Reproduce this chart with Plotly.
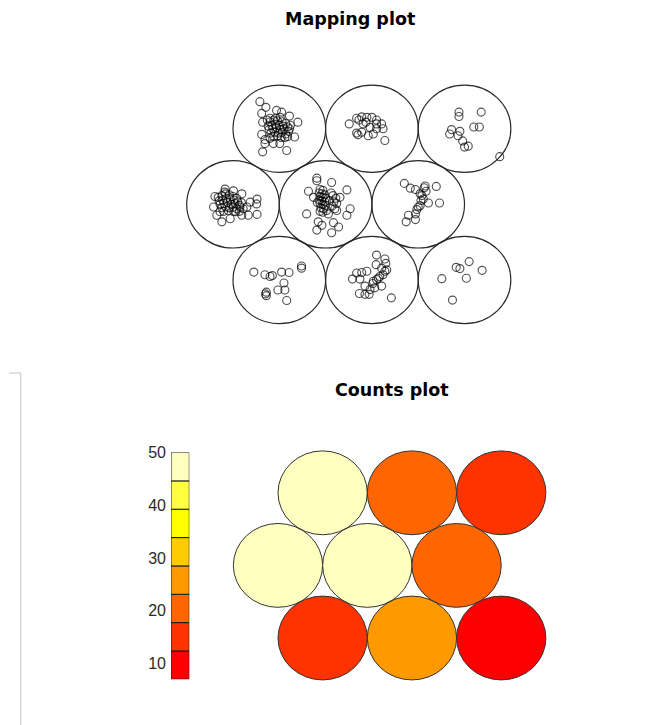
import math
import plotly.graph_objects as go

# ---- Hexagonal 3x3 SOM grid: rows bottom (0) to top (2), three units per row ----
ROWS = 3
COLS = 3
SQ3 = math.sqrt(3) / 2

# Sample positions inside each unit, as (dx, dy) offsets from the unit centre.
# Keys: (row, col), row 0 = bottom.
unit_top_left = [
    (-0.21, 0.31), (-0.145, 0.245), (-0.19, 0.175), (-0.03, 0.21), (0.025, 0.19),
    (0.20, 0.075), (0.165, -0.095), (-0.19, -0.065), (-0.155, -0.17), (-0.18, -0.265),
    (0.08, -0.25), (0.005, -0.17), (-0.065, -0.17), (-0.155, -0.125), (0.11, 0.145),
    (0.11, 0.00), (-0.18, 0.075), (-0.10, 0.12),
    (-0.10, 0.08), (-0.06, 0.10), (-0.02, 0.09), (0.03, 0.08), (0.07, 0.06),
    (-0.12, 0.03), (-0.08, 0.04), (-0.04, 0.05), (0.00, 0.04), (0.04, 0.03),
    (0.09, 0.02), (-0.11, -0.01), (-0.07, 0.00), (-0.03, 0.01), (0.01, -0.01),
    (0.05, 0.00), (0.10, -0.03), (-0.09, -0.05), (-0.05, -0.04), (-0.01, -0.05),
    (0.03, -0.04), (0.07, -0.06), (-0.06, -0.09), (-0.02, -0.08), (0.02, -0.10),
    (0.06, -0.10), (-0.04, 0.12), (0.01, 0.13), (-0.13, 0.10), (0.12, 0.04),
    (-0.10, -0.11), (0.09, -0.09),
]
unit_top_mid = [
    (-0.245, 0.055), (-0.165, 0.12), (-0.11, 0.135), (-0.055, 0.13), (0.00, 0.13),
    (0.05, 0.10), (0.05, 0.055), (0.105, 0.055), (-0.165, -0.05), (-0.15, -0.07),
    (-0.11, -0.04), (-0.04, -0.08), (0.015, -0.06), (0.12, 0.00), (0.14, -0.135),
    (-0.095, 0.055), (-0.02, 0.015), (0.05, 0.00), (-0.065, 0.075), (-0.14, 0.10),
]
unit_top_right = [
    (-0.06, 0.19), (-0.06, 0.14), (0.18, 0.19), (0.10, 0.02), (0.16, 0.02),
    (-0.14, -0.01), (-0.05, -0.03), (-0.16, -0.06), (-0.07, -0.08), (-0.02, -0.14),
    (0.00, -0.21), (0.04, -0.20), (0.38, -0.32),
]
unit_mid_left = [
    (-0.195, 0.09), (-0.21, -0.03), (-0.175, -0.125), (-0.12, -0.20), (-0.03, -0.165),
    (0.095, -0.125), (0.165, -0.125), (0.26, -0.115), (0.26, 0.06), (0.185, 0.025),
    (0.255, 0.005), (0.15, -0.03), (0.075, -0.03), (-0.085, 0.175), (0.005, 0.155),
    (0.095, 0.12), (-0.14, -0.085), (0.03, -0.085),
    (-0.16, 0.08), (-0.12, 0.10), (-0.08, 0.12), (-0.04, 0.11), (0.00, 0.09),
    (0.04, 0.07), (-0.15, 0.04), (-0.11, 0.05), (-0.07, 0.07), (-0.03, 0.06),
    (0.01, 0.05), (0.05, 0.03), (0.09, 0.02), (-0.14, 0.00), (-0.10, 0.01),
    (-0.06, 0.02), (-0.02, 0.00), (0.02, 0.01), (0.07, -0.01), (-0.12, -0.04),
    (-0.08, -0.03), (-0.04, -0.04), (0.00, -0.03), (0.04, -0.05), (0.11, -0.05),
    (-0.10, -0.08), (-0.05, -0.07), (0.01, -0.08), (0.07, -0.08), (-0.09, 0.14),
]
unit_mid_mid = [
    (-0.095, 0.30), (-0.095, 0.27), (0.065, 0.25), (-0.185, 0.15), (-0.205, -0.11),
    (-0.13, 0.08), (0.23, 0.165), (0.265, -0.05), (0.23, -0.125), (0.085, -0.21),
    (0.14, -0.26), (0.065, -0.325), (-0.04, -0.24), (-0.095, -0.295), (-0.08, -0.20),
    (0.03, -0.11), (0.12, -0.07), (0.155, 0.08),
    (-0.06, 0.17), (-0.03, 0.16), (-0.07, 0.13), (-0.04, 0.12), (-0.01, 0.11),
    (-0.06, 0.09), (-0.03, 0.08), (0.00, 0.07), (-0.07, 0.05), (-0.04, 0.04),
    (-0.01, 0.03), (-0.06, 0.01), (-0.03, 0.00), (0.00, -0.01), (-0.05, -0.04),
    (-0.02, -0.05), (-0.06, -0.08), (-0.03, -0.09), (0.01, -0.07), (0.08, 0.10),
    (0.11, 0.07), (0.09, 0.03), (0.12, 0.01), (0.07, -0.02), (0.10, -0.05),
    (0.06, 0.13), (-0.09, 0.02), (0.04, 0.04),
]
unit_mid_right = [
    (-0.15, 0.24), (-0.085, 0.185), (-0.03, 0.17), (0.075, 0.21), (0.065, 0.19),
    (0.195, 0.205), (0.02, 0.12), (0.055, 0.06), (0.11, 0.015), (0.23, 0.015),
    (0.02, -0.015), (-0.015, -0.06), (-0.03, -0.11), (-0.105, -0.125), (-0.13, -0.20),
    (-0.03, -0.175), (0.03, 0.045), (0.00, -0.03), (0.085, 0.15), (0.04, 0.10),
]
unit_bot_left = [
    (-0.275, 0.09), (-0.155, 0.06), (-0.10, 0.04), (-0.075, 0.05), (0.025, 0.09),
    (0.105, 0.085), (0.24, 0.16), (0.24, 0.135), (0.05, -0.035), (-0.015, -0.115),
    (0.06, -0.115), (-0.14, -0.14), (-0.14, -0.18), (-0.15, -0.16), (0.08, -0.235),
]
unit_bot_mid = [
    (0.05, 0.285), (0.14, 0.24), (0.15, 0.19), (0.045, 0.175), (0.105, 0.135),
    (0.14, 0.10), (0.085, 0.04), (0.05, 0.005), (0.01, -0.04), (0.03, -0.09),
    (0.105, -0.07), (-0.055, 0.10), (-0.11, 0.085), (-0.165, 0.08), (-0.21, 0.01),
    (-0.13, 0.01), (-0.075, -0.07), (-0.135, -0.155), (-0.075, -0.165), (-0.03, -0.165),
    (0.21, -0.205), (0.015, -0.015), (0.07, 0.02), (0.12, 0.06), (0.16, 0.115),
    (-0.02, -0.11),
]
unit_bot_right = [
    (-0.09, 0.145), (-0.05, 0.13), (0.05, 0.21), (0.19, 0.11), (-0.245, 0.015),
    (0.02, 0.02), (-0.13, -0.23),
]

unit_samples = {
    (2, 0): unit_top_left, (2, 1): unit_top_mid, (2, 2): unit_top_right,
    (1, 0): unit_mid_left, (1, 1): unit_mid_mid, (1, 2): unit_mid_right,
    (0, 0): unit_bot_left, (0, 1): unit_bot_mid, (0, 2): unit_bot_right,
}

# heat.colors(8) palette used for the count classes
palette = ["#FF0000", "#FF3300", "#FF6600", "#FF9900",
           "#FFCC00", "#FFFF00", "#FFFF40", "#FFFFBF"]
legend_ticks = [10, 20, 30, 40, 50]


def unit_centre(r, c):
    x = c + 1 + (0.5 if r % 2 == 0 else 0.0)
    y = r * SQ3
    return x, y


counts = {k: len(v) for k, v in unit_samples.items()}
cmin = min(counts.values())
cmax = max(counts.values())
nbin = len(palette)
step = (cmax - cmin) / nbin
edges = [cmin + i * step for i in range(nbin + 1)]


def count_colour(n):
    idx = int((n - cmin) / step)
    return palette[min(max(idx, 0), nbin - 1)]


fig = go.Figure()
shapes = []

# ---- Mapping plot ----
px_, py_ = [], []
for (r, c), pts in unit_samples.items():
    cx, cy = unit_centre(r, c)
    shapes.append(dict(type="circle", xref="x", yref="y",
                       x0=cx - 0.5, x1=cx + 0.5, y0=cy - 0.5, y1=cy + 0.5,
                       line=dict(color="#2a2a2a", width=1.2), layer="below"))
    for dx, dy in pts:
        px_.append(cx + dx)
        py_.append(cy + dy)

fig.add_trace(go.Scatter(
    x=px_, y=py_, mode="markers", xaxis="x", yaxis="y",
    marker=dict(symbol="circle-open", size=8, color="rgba(0,0,0,0.68)",
                line=dict(width=1.15)),
    hoverinfo="skip", showlegend=False))

# ---- Counts plot ----
for (r, c), n in counts.items():
    cx, cy = unit_centre(r, c)
    shapes.append(dict(type="circle", xref="x2", yref="y2",
                       x0=cx - 0.5, x1=cx + 0.5, y0=cy - 0.5, y1=cy + 0.5,
                       fillcolor=count_colour(n),
                       line=dict(color="#333333", width=1)))

# ---- Colour key for the counts ----
fig.add_trace(go.Bar(
    x=[0] * nbin, y=[step] * nbin, base=edges[:-1], width=1,
    xaxis="x3", yaxis="y3", cliponaxis=False,
    marker=dict(color=palette, line=dict(color="#1a1a1a", width=1)),
    hoverinfo="skip", showlegend=False))

W, H = 665, 725


def xdom(a, b):
    return [a / W, b / W]


def ydom(top, bottom):
    return [1 - bottom / H, 1 - top / H]


hidden = dict(visible=False, showgrid=False, zeroline=False)

# decorative frame line at the left edge of the lower panel
shapes.append(dict(type="path", xref="paper", yref="paper",
                   path=f"M {9.3 / W},{1 - 369 / H} L {20.7 / W},{1 - 369 / H} L {20.7 / W},0",
                   line=dict(color="#d8d8d8", width=1.5)))

fig.update_layout(
    width=W, height=H,
    margin=dict(l=0, r=0, t=0, b=0),
    paper_bgcolor="white", plot_bgcolor="rgba(0,0,0,0)",
    showlegend=False,
    shapes=shapes,
    xaxis=dict(domain=xdom(150, 560), range=[0.1037, 4.531], **hidden),
    yaxis=dict(domain=ydom(58, 338), range=[-0.7135, 2.4575], **hidden),
    xaxis2=dict(domain=xdom(220, 560), range=[0.3505, 4.158], anchor="y2", **hidden),
    yaxis2=dict(domain=ydom(438.5, 698.5), range=[-0.725, 2.342], anchor="x2", **hidden),
    xaxis3=dict(domain=xdom(171, 189.3), range=[-0.5, 0.5], anchor="y3", **hidden),
    yaxis3=dict(domain=ydom(449.5, 678.8), range=[cmin, cmax], anchor="x3",
                tickvals=legend_ticks, ticks="", showline=False, showgrid=False,
                zeroline=False, ticklabelstandoff=4,
                tickfont=dict(family="Liberation Sans, Arial", size=16, color="#2a2a2a")),
    annotations=[
        dict(text="<b>Mapping plot</b>", xref="paper", yref="paper",
             x=349.8 / W, y=1 - 11.5 / H, xanchor="center", yanchor="middle",
             showarrow=False, font=dict(family="DejaVu Sans", size=17.5, color="black")),
        dict(text="<b>Counts plot</b>", xref="paper", yref="paper",
             x=391.7 / W, y=1 - 386 / H, xanchor="center", yanchor="middle",
             showarrow=False, font=dict(family="DejaVu Sans", size=17.5, color="black")),
    ],
)

fig.write_html("out.html")
